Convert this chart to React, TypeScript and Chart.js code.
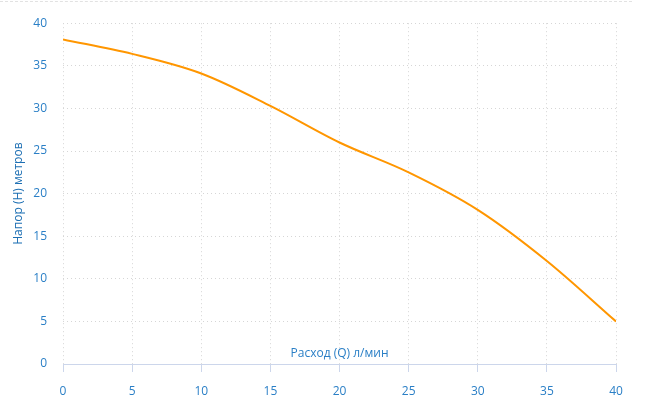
import { useEffect, useRef } from "react";
import { Chart, registerables } from "chart.js";
import type { ChartConfiguration } from "chart.js";

Chart.register(...registerables);

// расход, л/мин
const flowQ = [0, 5, 10, 15, 20, 25, 30, 35, 40];
// напор, м
const headH = [38.1, 36.4, 34.1, 30.3, 26.0, 22.5, 18.1, 12.1, 5.0];

const FONT = '"Open Sans", "Noto Sans", sans-serif';
const LABEL_BLUE = "#2a7fc6";
const GRID = "#d6d6d6";
const AXIS = "#ccd6eb";

export default function App() {
  const canvasRef = useRef<HTMLCanvasElement | null>(null);

  useEffect(() => {
    const ctx = canvasRef.current!.getContext("2d")!;

    const config: ChartConfiguration<"line", { x: number; y: number }[]> = {
      type: "line",
      data: {
        datasets: [
          {
            label: "Напор",
            data: flowQ.map((q, i) => ({ x: q, y: headH[i] })),
            borderColor: "#ff9600",
            borderWidth: 2,
            pointRadius: 0,
            tension: 0.4,
            cubicInterpolationMode: "monotone",
            fill: false,
          },
        ],
      },
      options: {
        animation: false,
        responsive: true,
        maintainAspectRatio: false,
        layout: { padding: { left: 0, right: 30, top: 22, bottom: 0 } },
        plugins: {
          legend: { display: false },
          tooltip: { enabled: false },
        },
        scales: {
          x: {
            type: "linear",
            min: 0,
            max: 40,
            ticks: {
              stepSize: 5,
              color: LABEL_BLUE,
              padding: 12,
              font: { family: FONT, size: 12 },
            },
            grid: {
              color: GRID,
              tickColor: AXIS,
              tickBorderDash: [],
              tickLength: 8,
            } as any,
            border: { display: true, color: AXIS, width: 1, dash: [1, 3] },
            title: {
              display: true,
              text: "Расход (Q) л/мин",
              color: LABEL_BLUE,
              font: { family: FONT, size: 12 },
              padding: { top: 0, bottom: 44 },
            },
            afterFit: (scale) => {
              scale.height = 41;
            },
          },
          y: {
            type: "linear",
            min: 0,
            max: 40,
            ticks: {
              stepSize: 5,
              color: LABEL_BLUE,
              padding: 16,
              font: { family: FONT, size: 12 },
            },
            grid: {
              color: GRID,
              drawTicks: false,
            } as any,
            border: { display: false, dash: [1, 3] },
            title: {
              display: true,
              text: "Напор (Н) метров",
              color: "#1d6fb3",
              font: { family: FONT, size: 12 },
              padding: { top: 11, bottom: 0 },
            },
            afterFit: (scale) => {
              scale.width = 63;
            },
          },
        },
      },
    };

    const chart = new Chart(ctx, config);
    return () => chart.destroy();
  }, []);

  return (
    <div style={{ position: "fixed", left: 0, top: 0, width: 646, height: 405, background: "#fff" }}>
      <div
        style={{
          position: "absolute",
          left: 0,
          top: 1,
          width: 632,
          borderTop: "1px dashed #e2e2e2",
        }}
      />
      <div style={{ position: "absolute", left: 0, top: 0, width: 646, height: 405 }}>
        <canvas ref={canvasRef} />
      </div>
    </div>
  );
}
